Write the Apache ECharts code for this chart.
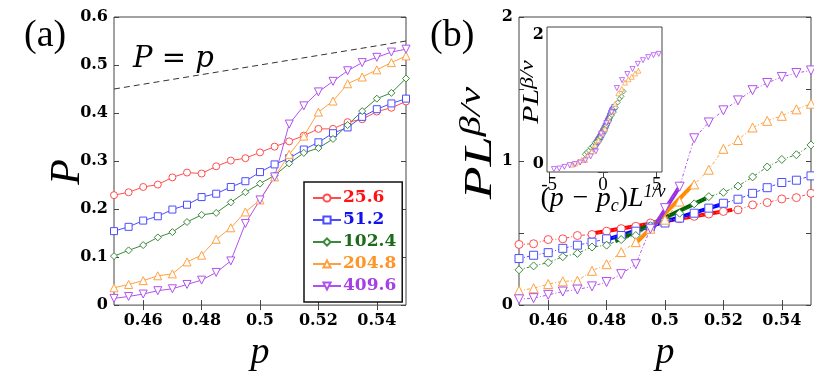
<!DOCTYPE html>
<html>
<head>
<meta charset="utf-8">
<script src="https://cdn.jsdelivr.net/npm/echarts@6/dist/echarts.min.js"></script>
<style>
  html, body { margin: 0; padding: 0; background: #fff; }
  #chart { width: 814px; height: 377px; }
</style>
</head>
<body>
<div id="chart"></div>
<script>
// system sizes (legend labels)
var sizes = ['25.6', '51.2', '102.4', '204.8', '409.6'];

// occupation probability p
var pValues = [0.45, 0.455, 0.46, 0.465, 0.47, 0.475, 0.48, 0.485, 0.49, 0.495, 0.5,
               0.505, 0.51, 0.515, 0.52, 0.525, 0.53, 0.535, 0.54, 0.545, 0.55];

// panel (a): P
var aRed    = [0.229, 0.235, 0.246, 0.251, 0.266, 0.276, 0.274, 0.289, 0.301, 0.306, 0.318, 0.330, 0.341, 0.353, 0.367, 0.367, 0.381, 0.387, 0.403, 0.411, 0.424];
var aBlue   = [0.154, 0.163, 0.176, 0.185, 0.199, 0.209, 0.225, 0.232, 0.246, 0.258, 0.277, 0.293, 0.306, 0.324, 0.339, 0.358, 0.370, 0.392, 0.408, 0.420, 0.430];
var aGreen  = [0.102, 0.114, 0.125, 0.141, 0.152, 0.173, 0.188, 0.192, 0.214, 0.235, 0.253, 0.270, 0.295, 0.317, 0.327, 0.346, 0.375, 0.404, 0.430, 0.442, 0.472];
var aOrange = [0.036, 0.043, 0.051, 0.061, 0.065, 0.090, 0.104, 0.137, 0.161, 0.194, 0.219, 0.267, 0.314, 0.352, 0.402, 0.425, 0.461, 0.475, 0.490, 0.505, 0.519];
var aPurple = [0.014, 0.018, 0.023, 0.030, 0.034, 0.043, 0.052, 0.068, 0.092, 0.170, 0.219, 0.267, 0.377, 0.415, 0.444, 0.466, 0.488, 0.505, 0.516, 0.527, 0.533];

// panel (b): P L^(beta/nu)
var bRed    = [0.421, 0.426, 0.455, 0.460, 0.483, 0.490, 0.513, 0.531, 0.547, 0.570, 0.585, 0.600, 0.616, 0.632, 0.650, 0.661, 0.696, 0.712, 0.737, 0.746, 0.776];
var bBlue   = [0.323, 0.346, 0.364, 0.394, 0.416, 0.437, 0.460, 0.483, 0.513, 0.542, 0.570, 0.604, 0.638, 0.673, 0.707, 0.735, 0.776, 0.815, 0.851, 0.867, 0.897];
var bGreen  = [0.245, 0.272, 0.295, 0.336, 0.359, 0.403, 0.416, 0.455, 0.483, 0.551, 0.593, 0.638, 0.703, 0.753, 0.783, 0.826, 0.890, 0.959, 1.011, 1.044, 1.112];
var bOrange = [0.101, 0.117, 0.146, 0.165, 0.169, 0.238, 0.284, 0.368, 0.437, 0.530, 0.593, 0.719, 0.838, 0.940, 1.085, 1.146, 1.233, 1.279, 1.314, 1.359, 1.398];
var bPurple = [0.040, 0.048, 0.071, 0.094, 0.108, 0.130, 0.160, 0.215, 0.284, 0.530, 0.673, 0.822, 1.158, 1.268, 1.352, 1.421, 1.492, 1.542, 1.584, 1.611, 1.629];

// thick fit segments near the crossing in panel (b)
var fitP0 = [0.475, 0.480, 0.483, 0.490, 0.496];
var fitY0 = [0.497, 0.455, 0.444, 0.428, 0.535];
var fitP1 = [0.523, 0.521, 0.514, 0.510, 0.505];
var fitY1 = [0.661, 0.710, 0.741, 0.844, 0.822];

// inset collapse: x = (p - pc) * L^(1/nu), factors
var pc = 0.4967;
var insetScale = [12, 20, 36, 62, 97.5];

// tick labels
var pTicks = [0.46, 0.48, 0.5, 0.52, 0.54];
var insetXTicks = [-5, 0, 5];

var aData = [aRed, aBlue, aGreen, aOrange, aPurple];
var bData = [bRed, bBlue, bGreen, bOrange, bPurple];
var lineColors = ['#ff4d4d', '#4d4dff', '#3a8a3a', '#ffa040', '#b050f0'];
var textColors = ['#ff1111', '#1111ee', '#1b6b1b', '#ff9526', '#a53fe6'];
var fitColors  = ['#ff0000', '#0000ff', '#006400', '#ff8c00', '#9a2ee0'];
var symbols = ['circle', 'rect', 'diamond', 'triangle', 'triangle'];
var rotations = [0, 0, 0, 0, 180];

var serif = 'Liberation Serif';
var boldSerif = 'DejaVu Serif';
var axisColor = '#444';

var chart = echarts.init(document.getElementById('chart'));

function tick(custom) {
  var t = { show: true, inside: true, length: 5, lineStyle: { color: axisColor, width: 1 } };
  if (custom) t.customValues = custom;
  return t;
}

function xAx(grid, pos, min, max, custom, showLabel, extra) {
  var ax = {
    type: 'value', gridIndex: grid, position: pos, min: min, max: max,
    axisLine: { show: false }, splitLine: { show: false },
    axisTick: tick(custom),
    axisLabel: { show: showLabel, customValues: custom, margin: 8,
      fontFamily: boldSerif, fontWeight: 'bold', fontSize: 16, color: '#000',
      formatter: function (v) { return String(v); } }
  };
  return Object.assign(ax, extra || {});
}

function yAx(grid, pos, min, max, interval, showLabel, fmt) {
  return {
    type: 'value', gridIndex: grid, position: pos, min: min, max: max, interval: interval,
    axisLine: { show: false }, splitLine: { show: false },
    axisTick: tick(null),
    axisLabel: { show: showLabel, margin: 6, fontFamily: boldSerif, fontWeight: 'bold',
      fontSize: 16, color: '#000', formatter: fmt }
  };
}

var xNameStyle = { fontFamily: serif, fontStyle: 'italic', fontSize: 38, color: '#000' };

var xAxes = [
  xAx(0, 'bottom', 0.45, 0.55, pTicks, true, { name: 'p', nameLocation: 'middle', nameGap: 17, nameTextStyle: xNameStyle }),
  xAx(0, 'top', 0.45, 0.55, pTicks, false),
  xAx(1, 'bottom', 0.45, 0.55, pTicks, true, { name: 'p', nameLocation: 'middle', nameGap: 17, nameTextStyle: xNameStyle }),
  xAx(1, 'top', 0.45, 0.55, pTicks, false),
  xAx(2, 'bottom', -5.2, 5.5, insetXTicks, true),
  xAx(2, 'top', -5.2, 5.5, insetXTicks, false)
];
xAxes[4].axisLabel.fontWeight = 'normal';
xAxes[4].axisLabel.fontFamily = serif;
xAxes[4].axisLabel.fontSize = 19;
xAxes[4].axisLabel.margin = 4;

var yAxes = [
  yAx(0, 'left', 0, 0.6, 0.1, true, function (v) { return v === 0 ? '0' : v.toFixed(1); }),
  yAx(0, 'right', 0, 0.6, 0.1, false),
  yAx(1, 'left', 0, 2, 0.5, true, function (v) { return v % 1 === 0 ? String(v) : ''; }),
  yAx(1, 'right', 0, 2, 0.5, false),
  yAx(2, 'left', 0, 2, 0.5, true, function (v) { return v % 2 === 0 ? String(v) : ''; }),
  yAx(2, 'right', 0, 2, 0.5, false)
];
yAxes[4].axisLabel.margin = 3;
yAxes[4].axisLabel.verticalAlignMaxLabel = 'top';
yAxes[4].axisLabel.verticalAlignMinLabel = 'bottom';

var series = [];

// P = p reference line
series.push({
  type: 'line', name: 'P=p', xAxisIndex: 0, yAxisIndex: 0, symbol: 'none',
  data: [[0.45, 0.45], [0.55, 0.55]],
  lineStyle: { color: '#333', width: 1, type: [6, 4] }, z: 1
});

// panel (a)
for (var i = 0; i < 5; i++) {
  series.push({
    type: 'line', name: sizes[i], xAxisIndex: 0, yAxisIndex: 0,
    data: pValues.map(function (p, j) { return [p, aData[i][j]]; }),
    symbol: symbols[i], symbolSize: i >= 3 ? 8 : 7, symbolRotate: rotations[i],
    lineStyle: { color: lineColors[i], width: 1 },
    itemStyle: { color: '#fff', borderColor: lineColors[i], borderWidth: 1 }
  });
}

// panel (b) fit segments
for (var k = 0; k < 5; k++) {
  series.push({
    type: 'line', name: 'fit' + k, xAxisIndex: 2, yAxisIndex: 2, symbol: 'none',
    data: [[fitP0[k], fitY0[k]], [fitP1[k], fitY1[k]]],
    lineStyle: { color: fitColors[k], width: 4 }, z: 3
  });
}

// panel (b) data
for (var i = 0; i < 5; i++) {
  series.push({
    type: 'line', name: sizes[i], xAxisIndex: 2, yAxisIndex: 2,
    data: pValues.map(function (p, j) { return [p, bData[i][j]]; }),
    symbol: symbols[i], symbolSize: i >= 3 ? 9 : 8, symbolRotate: rotations[i],
    lineStyle: { color: lineColors[i], width: 1, type: [3, 2, 1, 2] },
    itemStyle: { color: '#fff', borderColor: lineColors[i], borderWidth: 1 }, z: 4
  });
}

// inset collapse
for (var i = 0; i < 5; i++) {
  series.push({
    type: 'scatter', name: sizes[i], xAxisIndex: 4, yAxisIndex: 4,
    data: pValues.map(function (p, j) { return [(p - pc) * insetScale[i], bData[i][j]]; }),
    symbol: symbols[i], symbolSize: 5, symbolRotate: rotations[i],
    itemStyle: { color: '#fff', borderColor: lineColors[i], borderWidth: 1 }, z: 5
  });
}

function italicRich(big, small) {
  var lh = Math.round(big * 1.15);
  return {
    i: { fontFamily: serif, fontStyle: 'italic', fontSize: big, color: '#000', lineHeight: lh },
    n: { fontFamily: serif, fontSize: big, color: '#000', lineHeight: lh },
    sup: { fontFamily: serif, fontStyle: 'italic', fontSize: small, color: '#000', verticalAlign: 'top', lineHeight: small },
    sub: { fontFamily: serif, fontStyle: 'italic', fontSize: small, color: '#000', verticalAlign: 'bottom', lineHeight: small }
  };
}

var option = {
  animation: false,
  grid: [
    { left: 114, top: 17, width: 292, height: 291, show: true, borderColor: axisColor, borderWidth: 1, backgroundColor: 'transparent' },
    { left: 519, top: 17, width: 292, height: 291, show: true, borderColor: axisColor, borderWidth: 1, backgroundColor: 'transparent' },
    { left: 547, top: 27, width: 115, height: 145, show: true, borderColor: axisColor, borderWidth: 1, backgroundColor: '#fff', z: 4 }
  ],
  xAxis: xAxes,
  yAxis: yAxes,
  legend: {
    show: true, orient: 'vertical', left: 304, top: 182,
    padding: [6, 6, 6, 8], itemGap: 2, itemWidth: 28, itemHeight: 9,
    backgroundColor: '#fff', borderColor: '#111', borderWidth: 1.5, borderRadius: 0,
    selectedMode: false,
    textStyle: { fontFamily: boldSerif, fontWeight: 'bold', fontSize: 17, lineHeight: 20, padding: [0, 0, 0, -3] },
    data: sizes.map(function (s, i) { return { name: s, textStyle: { color: textColors[i] } }; })
  },
  graphic: [
    { type: 'text', left: 24, top: 17, style: { text: '(a)', font: "38px 'Liberation Serif'", fill: '#000' } },
    { type: 'text', left: 430, top: 17, style: { text: '(b)', font: "38px 'Liberation Serif'", fill: '#000' } },
    { type: 'text', left: 133, top: 45, style: { text: 'P = p', font: "italic 29px 'DejaVu Serif'", fill: '#000' } },
    // axis titles
    { type: 'text', x: 68, y: 172, rotation: Math.PI / 2,
      style: { text: 'P', font: "italic 42px 'Liberation Serif'", fill: '#000', align: 'center', verticalAlign: 'middle' } },
    { type: 'text', x: 480, y: 143, rotation: Math.PI / 2, scaleX: 1.35,
      style: { text: '{i|PL}{sup|\u03b2/\u03bd}', rich: italicRich(40, 30), align: 'center', verticalAlign: 'middle' } },
    { type: 'text', x: 532, y: 92, rotation: Math.PI / 2, scaleX: 1.3, z: 10,
      style: { text: '{i|PL}{sup|\u03b2/\u03bd}', rich: italicRich(23, 18), align: 'center', verticalAlign: 'middle' } },
    { type: 'text', x: 603, y: 199, z: 10,
      style: { text: '{n|(}{i|p \u2212 p}{sub|c}{n|)}{i|L}{sup|1/\u03bd}', rich: italicRich(28, 18), align: 'center', verticalAlign: 'middle' } }
  ],
  series: series
};

chart.setOption(option);
</script>
</body>
</html>
